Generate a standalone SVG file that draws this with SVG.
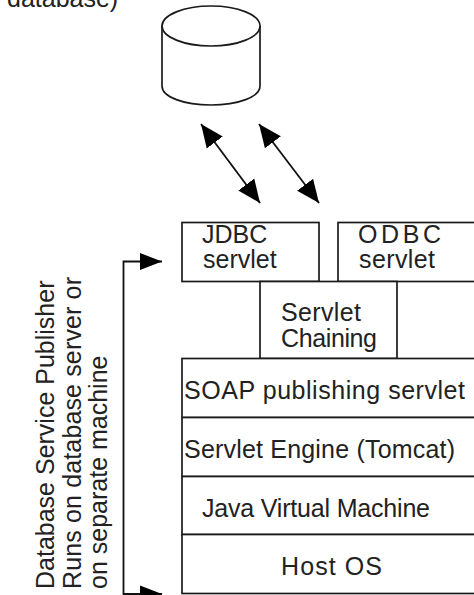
<svg xmlns="http://www.w3.org/2000/svg" width="474" height="595" viewBox="0 0 474 595">
<style>
.s{fill:#fff;stroke:#1a1a1a;stroke-width:1.7}
.c{fill:none;stroke:#111;stroke-width:1.8}
text{font-family:"Liberation Sans",Arial,sans-serif;font-size:25px;fill:#222}
</style>
<defs>
<marker id="a" markerUnits="userSpaceOnUse" markerWidth="26" markerHeight="24" refX="23" refY="12" orient="auto-start-reverse" viewBox="0 0 26 24"><path d="M0 2L23 12L0 22Z" fill="#000"/></marker>
<marker id="b" markerUnits="userSpaceOnUse" markerWidth="26" markerHeight="24" refX="23" refY="12" orient="auto-start-reverse" viewBox="0 0 26 24"><path d="M1 3.500L23 12L1 20.500Z" fill="#000"/></marker>
</defs>
<rect width="474" height="595" fill="#fff"/>
<g id="caption"><text x="7" y="7">database)</text></g>
<g id="database">
<path class="s" d="M162 26V86C162 97 184 105 211 105C238 105 260 97 260 86V26"/>
<ellipse class="s" cx="211" cy="26" rx="49" ry="20"/>
</g>
<g id="connectors">
<path class="c" d="M201 124L260 203" marker-start="url(#a)" marker-end="url(#a)"/>
<path class="c" d="M259 124L319 203" marker-start="url(#a)" marker-end="url(#a)"/>
<path class="c" d="M162 261.500H123.500V594H162" marker-start="url(#b)" marker-end="url(#b)"/>
</g>
<g id="jdbc"><rect class="s" x="182" y="222.500" width="137" height="59"/><text x="202" y="243">JDBC</text><text x="203" y="268">servlet</text></g>
<g id="odbc"><rect class="s" x="338" y="222.500" width="140" height="59"/><text x="358" y="243" textLength="83">ODBC</text><text x="359" y="268" textLength="76">servlet</text></g>
<g id="chaining"><rect class="s" x="260" y="281.500" width="137" height="77"/><text x="281" y="321" textLength="80">Servlet</text><text x="281" y="347" textLength="96">Chaining</text></g>
<g id="soap"><rect class="s" x="182" y="358.500" width="296" height="59"/><text x="184" y="399" textLength="281">SOAP publishing servlet</text></g>
<g id="engine"><rect class="s" x="182" y="417.500" width="296" height="59"/><text x="184" y="458" textLength="271">Servlet Engine (Tomcat)</text></g>
<g id="jvm"><rect class="s" x="182" y="476.500" width="296" height="58"/><text x="202" y="517" textLength="228">Java Virtual Machine</text></g>
<g id="hostos"><rect class="s" x="182" y="534.500" width="296" height="59"/><text x="281" y="575" textLength="101">Host OS</text></g>
<g id="publisher-label">
<text transform="translate(54 589) rotate(-90)">Database Service Publisher</text>
<text transform="translate(81 589) rotate(-90)" textLength="312">Runs on database server or</text>
<text transform="translate(107 589) rotate(-90)">on separate machine</text>
</g>
</svg>
